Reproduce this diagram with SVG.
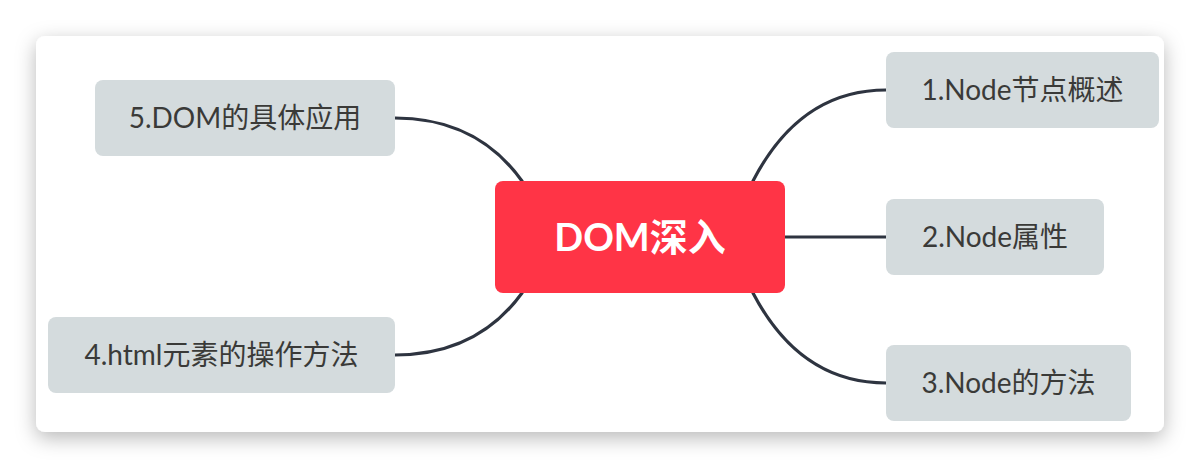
<svg xmlns="http://www.w3.org/2000/svg" width="1200" height="468" viewBox="0 0 1200 468">
<defs>
<filter id="shadow" x="-10%" y="-20%" width="120%" height="140%">
<feDropShadow dx="0" dy="6" stdDeviation="10" flood-color="#000" flood-opacity="0.28"/>
</filter>
<style>
.topic rect{fill:#D4DBDD}
.topic text{font-family:Lato,"Noto Sans CJK SC",sans-serif;font-size:28px;fill:#3A3A38;text-anchor:middle}
.conn{fill:none;stroke:#2E3440;stroke-width:3.2;stroke-linecap:round}
</style>
</defs>
<rect x="0" y="0" width="1200" height="468" fill="#FFFFFF"/>
<rect x="36" y="36" width="1128" height="396" rx="9" fill="#FFFFFF" filter="url(#shadow)"/>
<g id="connectors">
<path class="conn" d="M753,181 Q800,90 886,90"/>
<path class="conn" d="M785,237 L886,237"/>
<path class="conn" d="M753,293 Q800,383 886,383"/>
<path class="conn" d="M522,181 Q477,118 395,118"/>
<path class="conn" d="M522,293 Q477,355 395,355"/>
</g>
<g id="root">
<rect x="495" y="181" width="290" height="112" rx="8" fill="#FF3446"/>
<text x="640" y="251" font-family="Lato,'Noto Sans CJK SC',sans-serif" font-size="38" font-weight="bold" fill="#FFFFFF" text-anchor="middle">DOM深入</text>
</g>
<g id="node1" class="topic">
<rect x="886" y="52" width="273" height="76" rx="8"/>
<text x="1022.5" y="100">1.Node节点概述</text>
</g>
<g id="node2" class="topic">
<rect x="886" y="199" width="218" height="76" rx="8"/>
<text x="995" y="247">2.Node属性</text>
</g>
<g id="node3" class="topic">
<rect x="886" y="345" width="245" height="76" rx="8"/>
<text x="1008.5" y="393">3.Node的方法</text>
</g>
<g id="node4" class="topic">
<rect x="48" y="317" width="347" height="76" rx="8"/>
<text x="221.5" y="365">4.html元素的操作方法</text>
</g>
<g id="node5" class="topic">
<rect x="95" y="80" width="300" height="76" rx="8"/>
<text x="245" y="128">5.DOM的具体应用</text>
</g>
</svg>
